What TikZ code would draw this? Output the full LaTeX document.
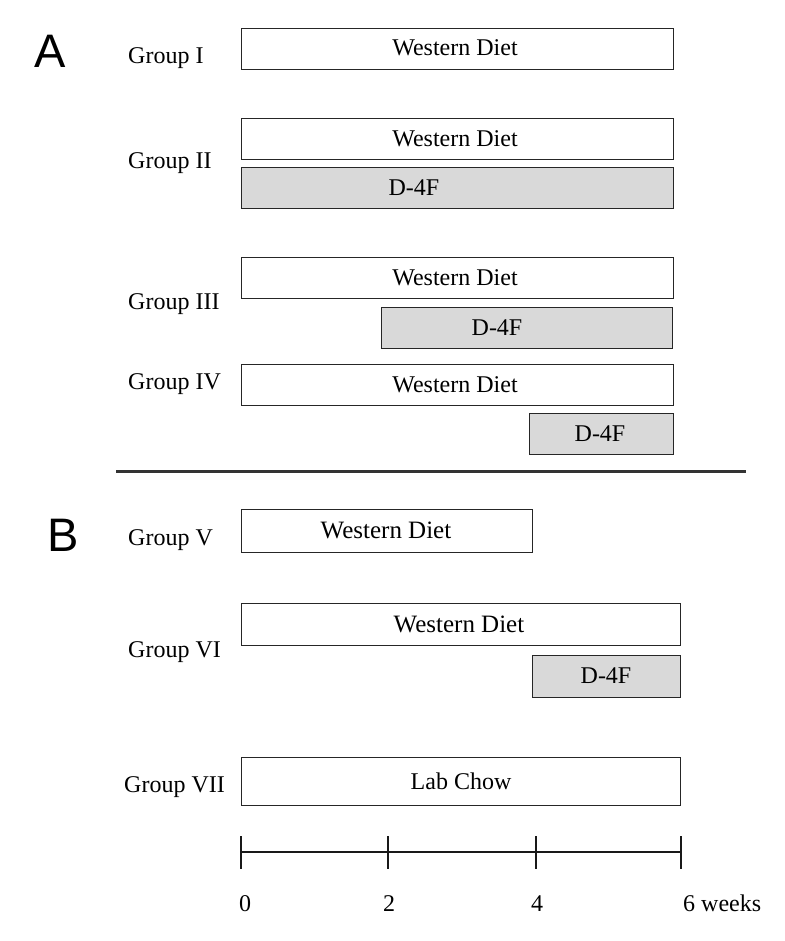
\documentclass[tikz,border=0pt]{standalone}
\usepackage{fontspec}
\setmainfont{Liberation Serif}
\newfontfamily\panelfont{Liberation Sans}
\begin{document}
\begin{tikzpicture}[x=1pt,y=-1pt,
  bar/.style={draw=black!85, line width=1.2pt, fill=white, inner sep=0pt, anchor=north west},
  drug/.style={bar, fill=gray!30},
  txt/.style={font=\fontsize{24}{24}\selectfont, inner sep=0pt},
  txtb/.style={font=\fontsize{25}{25}\selectfont, inner sep=0pt},
  grp/.style={font=\fontsize{24}{24}\selectfont, inner sep=0pt, anchor=base west},
  panel/.style={font=\panelfont\fontsize{47}{47}\selectfont, inner sep=0pt},
  axis/.style={line width=1.3pt, draw=black!90}]
\useasboundingbox (0,0) rectangle (784,941);

% Panel A
\node[panel] (pa) at (50,51) {A};
\node[grp] (g1) at (128,64) {Group I};
\node[bar, minimum width=432pt, minimum height=41pt] (b1) at (241,28) {};
\node[txt] (t1) at (455,48) {Western Diet};

\node[grp] (g2) at (128,169) {Group II};
\node[bar, minimum width=432pt, minimum height=41pt] (b2) at (241,118) {};
\node[txt] (t2) at (455,138.5) {Western Diet};
\node[drug, minimum width=432pt, minimum height=41pt] (d2) at (241,167) {};
\node[txt] (u2) at (414,187.5) {D-4F};

\node[grp] (g3) at (128,309) {Group III};
\node[bar, minimum width=432pt, minimum height=41pt] (b3) at (241,257) {};
\node[txt] (t3) at (455,277.5) {Western Diet};
\node[drug, minimum width=291pt, minimum height=41pt] (d3) at (381,307) {};
\node[txt] (u3) at (497,327.5) {D-4F};

\node[grp] (g4) at (128,389) {Group IV};
\node[bar, minimum width=432pt, minimum height=41pt] (b4) at (241,364) {};
\node[txt] (t4) at (455,384.5) {Western Diet};
\node[drug, minimum width=144pt, minimum height=41pt] (d4) at (529,413) {};
\node[txt] (u4) at (600,433.5) {D-4F};

% separator
\coordinate (s1) at (116,471);
\coordinate (s2) at (746,471);
\draw[line width=3pt, draw=black!80] (s1) -- (s2);

% Panel B
\node[panel] (pb) at (63,535) {B};
\node[grp] (g5) at (128,545) {Group V};
\node[bar, minimum width=291pt, minimum height=43pt] (b5) at (241,509) {};
\node[txtb] (t5) at (386,530.5) {Western Diet};

\node[grp] (g6) at (128,657) {Group VI};
\node[bar, minimum width=439pt, minimum height=42pt] (b6) at (241,603) {};
\node[txtb] (t6) at (459,624) {Western Diet};
\node[drug, minimum width=148pt, minimum height=42pt] (d6) at (532,655) {};
\node[txt] (u6) at (606,676) {D-4F};

\node[grp] (g7) at (124,792) {Group VII};
\node[bar, minimum width=439pt, minimum height=48pt] (b7) at (241,757) {};
\node[txt] (t7) at (461,781) {Lab Chow};

% timeline
\coordinate (w0) at (241,852);
\coordinate (w2) at (388,852);
\coordinate (w4) at (536,852);
\coordinate (w6) at (681,852);
\draw[axis] (w0) -- (w6);
\foreach \p in {w0,w2,w4,w6}
  \draw[axis] ([yshift=16pt]\p) -- ([yshift=-17pt]\p);
\node[grp, anchor=base] (l0) at (245,911) {0};
\node[grp, anchor=base] (l2) at (389,911) {2};
\node[grp, anchor=base] (l4) at (537,911) {4};
\node[grp] (l6) at (683,911) {6 weeks};
\end{tikzpicture}
\end{document}
